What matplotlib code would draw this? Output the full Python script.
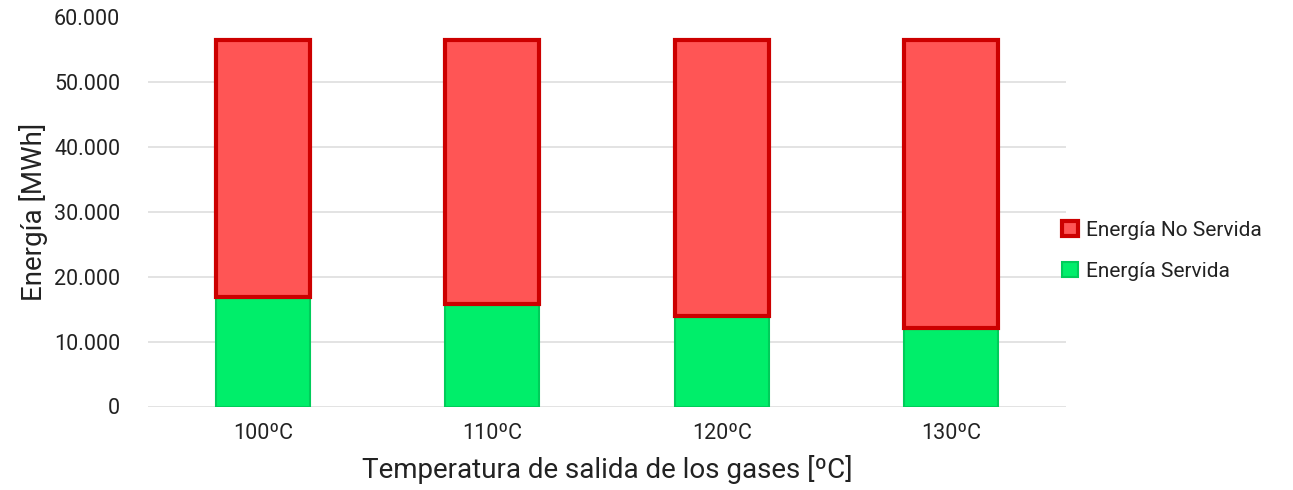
import matplotlib.pyplot as plt
import matplotlib.ticker as mticker
import numpy as np

plt.rcParams['font.family'] = ['Roboto', 'DejaVu Sans']

categories = ['100ºC', '110ºC', '120ºC', '130ºC']
energia_servida = [16900, 15800, 14000, 12100]
energia_total = [56500, 56500, 56500, 56500]
energia_no_servida = [t - s for t, s in zip(energia_total, energia_servida)]

fig = plt.figure(figsize=(12.93, 4.90), dpi=100)
ax = fig.add_axes([148 / 1293, 1 - 406.5 / 490, 918 / 1293, 389 / 490])

x = np.arange(len(categories))
w = 0.41
ax.bar(x, energia_servida, w, color='#00EE6A', edgecolor='#00CC5A',
       linewidth=1.5, label='Energía Servida', zorder=2)
ax.bar(x, energia_no_servida, w, bottom=energia_servida, color='#FF5555',
       edgecolor='#CC0000', linewidth=3, label='Energía No Servida', zorder=3)

ax.set_xlim(-0.5, len(categories) - 0.5)
ax.set_ylim(0, 60000)
ax.set_yticks(np.arange(0, 60001, 10000))
ax.yaxis.set_major_formatter(mticker.FuncFormatter(
    lambda v, p: f'{int(v):,}'.replace(',', '.')))
ax.set_xticks(x)
ax.set_xticklabels(categories)
ax.tick_params(axis='both', length=0, labelsize=15.5, colors='#222222')
ax.tick_params(axis='x', pad=12)
ax.tick_params(axis='y', pad=20)
ax.grid(axis='y', color='#E0E0E0', linewidth=1.3, zorder=0)
ax.set_axisbelow(True)
for s in ax.spines.values():
    s.set_visible(False)

ax.set_xlabel('Temperatura de salida de los gases [ºC]', fontsize=20,
              color='#222222', labelpad=8)
ax.set_ylabel('Energía [MWh]', fontsize=20, color='#222222', labelpad=4)

handles, labels = ax.get_legend_handles_labels()
ax.legend(handles[::-1], labels[::-1], loc='center left',
          bbox_to_anchor=(0.996, 0.40), frameon=False, fontsize=15,
          handlelength=0.75, handleheight=0.75, handletextpad=0.4,
          labelspacing=1.05, borderpad=0, borderaxespad=0,
          labelcolor='#222222')

fig.savefig('out.png', dpi=100)
